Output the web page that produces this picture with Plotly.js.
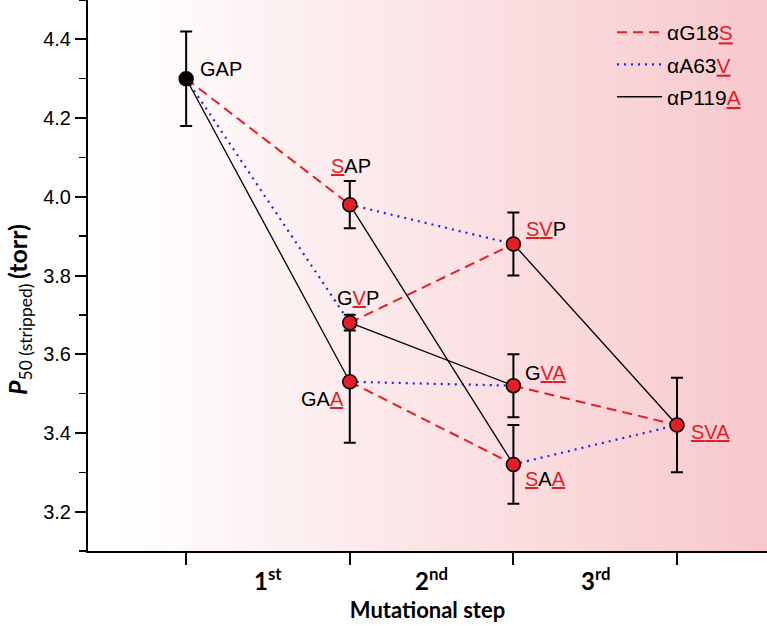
<!DOCTYPE html>
<html><head><meta charset="utf-8">
<script src="https://cdn.plot.ly/plotly-3.0.1.min.js"></script>
<style>html,body{margin:0;padding:0;background:#fff;} #chart{width:767px;height:626px;}</style>
</head><body><div id="chart"></div>
<script>
// ---- data ----
const genotypes = ['GAP','SAP','GVP','GAA','SVP','GVA','SAA','SVA'];
const step      = [0, 1, 1, 1, 2, 2, 2, 3];
const p50       = [4.30, 3.98, 3.68, 3.53, 3.88, 3.52, 3.32, 3.42];
const p50Err    = [0.12, 0.06, 0.02, 0.155, 0.08, 0.08, 0.10, 0.12];
const wildType  = 'GAP';
const stepLabels   = ['1<sup>st</sup>', '2<sup>nd</sup>', '3<sup>rd</sup>'];
const stepLabelPos = [0.5, 1.5, 2.5];
const stepTicks    = [0, 1, 2, 3];
const seriesNames  = ['αG18S', 'αA63V', 'αP119A'];
const g18sPairs  = [['GAP','SAP'], ['GVP','SVP'], ['GAA','SAA'], ['GVA','SVA']];
const a63vPairs  = [['GAP','GVP'], ['SAP','SVP'], ['GAA','GVA'], ['SAA','SVA']];
const p119aPairs = [['GAP','GAA'], ['SAP','SAA'], ['GVP','GVA'], ['SVP','SVA']];

// ---- styling ----
const RED = '#e41e26', BLUE = '#2424dc';
const markFont = 'Liberation Sans, Arial, sans-serif';
const boldFont = 'Lato, Open Sans, sans-serif';

function redU(ch){ return '<span style="color:'+RED+'"><u>'+ch+'</u></span>'; }
function genoHtml(g){
  let s=''; for (let i=0;i<g.length;i++){ s += (g[i]!==wildType[i]) ? redU(g[i]) : g[i]; } return s;
}
function seriesHtml(n){ return n.slice(0,-1) + redU(n.slice(-1)); }
function pairXY(pairs){
  const x=[], y=[];
  pairs.forEach(([a,b])=>{
    const i=genotypes.indexOf(a), j=genotypes.indexOf(b);
    x.push(step[i], step[j], null); y.push(p50[i], p50[j], null);
  });
  return {x,y};
}

const seriesDefs = [
  {pairs:g18sPairs,  line:{color:RED,  width:2,   dash:'10px,6px'}},
  {pairs:a63vPairs,  line:{color:BLUE, width:2.2, dash:'2px,5px'}},
  {pairs:p119aPairs, line:{color:'#000', width:1.3, dash:'solid'}}
];
const traces = seriesDefs.map((d,k)=>{
  const xy = pairXY(d.pairs);
  return {x:xy.x, y:xy.y, mode:'lines', type:'scatter', connectgaps:false,
          name:seriesHtml(seriesNames[k]), legendgroup:'g'+k, line:d.line, hoverinfo:'skip'};
});
traces.push({
  x:step, y:p50, mode:'markers', type:'scatter', showlegend:false, hoverinfo:'skip',
  marker:{size:14, color:genotypes.map(g=>g===wildType?'#000':RED), line:{color:'#000', width:1.5}},
  error_y:{type:'data', array:p50Err, visible:true, color:'#000', thickness:2, width:6}
});

// label placement (pixels relative to marker)
const place = {
  GAP:{xa:'left',  dx:12, dy:10},
  SAP:{xa:'center',dx:1,  dy:39},
  GVP:{xa:'center',dx:8,  dy:25},
  GAA:{xa:'right', dx:-4, dy:-17},
  SVP:{xa:'left',  dx:11, dy:15},
  GVA:{xa:'left',  dx:10, dy:13},
  SAA:{xa:'left',  dx:10, dy:-15},
  SVA:{xa:'left',  dx:12, dy:-7}
};
const annotations = genotypes.map((g,i)=>({
  x:step[i], y:p50[i], xref:'x', yref:'y', showarrow:false, text:genoHtml(g),
  xanchor:place[g].xa, yanchor:'middle', xshift:place[g].dx, yshift:place[g].dy,
  font:{family:markFont, size:20, color:'#000'}
}));
stepLabels.forEach((t,i)=>annotations.push({
  x:stepLabelPos[i], y:0, xref:'x', yref:'paper', showarrow:false, text:t,
  xanchor:'center', yanchor:'top', yshift:-10,
  font:{family:boldFont, size:24, color:'#000', weight:'bold'}
}));
annotations.push({
  x:0, y:1-310/551, xref:'paper', yref:'paper', showarrow:false, textangle:-90,
  xanchor:'center', yanchor:'middle', xshift:-69,
  text:'<b><i>P</i></b><sub>50 (stripped) </sub><b>(torr)</b>',
  font:{family:boldFont, size:25, color:'#000'}
});

const gradSvg = '<svg xmlns="http://www.w3.org/2000/svg" width="100" height="100" preserveAspectRatio="none">'+
  '<defs><linearGradient id="g" x1="0" y1="0" x2="1" y2="0">'+
  '<stop offset="0" stop-color="#ffffff"/><stop offset="0.04" stop-color="#ffffff"/>'+
  '<stop offset="1" stop-color="#f7c8cc"/></linearGradient></defs>'+
  '<rect width="100" height="100" fill="url(#g)"/></svg>';

const layout = {
  width:767, height:626,
  margin:{l:88, r:0, t:0, b:75},
  paper_bgcolor:'#fff', plot_bgcolor:'rgba(0,0,0,0)',
  showlegend:true,
  legend:{x:(612-88)/679, y:1-12/551, xanchor:'left', yanchor:'top', bgcolor:'rgba(0,0,0,0)',
          font:{family:markFont, size:21, color:'#000'}, tracegroupgap:2, itemwidth:45},
  xaxis:{range:[-0.6,3.55], tickvals:stepTicks, showticklabels:false, ticks:'outside', ticklen:12,
         tickwidth:2, tickcolor:'#000', showline:true, linewidth:2, linecolor:'#000',
         showgrid:false, zeroline:false, fixedrange:true,
         title:{text:'<b>Mutational step</b>', font:{family:boldFont, size:22, color:'#000'}, standoff:39}},
  yaxis:{range:[3.1,4.5], dtick:0.2, tick0:3.2, tickformat:'.1f', ticks:'outside', ticklen:11,
         tickwidth:2, tickcolor:'#000', showline:true, linewidth:2, linecolor:'#000',
         showgrid:false, zeroline:false, fixedrange:true,
         tickfont:{family:markFont, size:20, color:'#000'},
         minor:{dtick:0.1, ticks:'outside', ticklen:7, tickwidth:1.5, tickcolor:'#000', showgrid:false}},
  images:[{source:'data:image/svg+xml;charset=utf-8,'+encodeURIComponent(gradSvg),
           xref:'paper', yref:'paper', x:0, y:1, sizex:1, sizey:1, sizing:'stretch',
           xanchor:'left', yanchor:'top', layer:'below'}],
  annotations:annotations
};
Plotly.newPlot('chart', traces, layout, {staticPlot:true, displayModeBar:false});
</script></body></html>
